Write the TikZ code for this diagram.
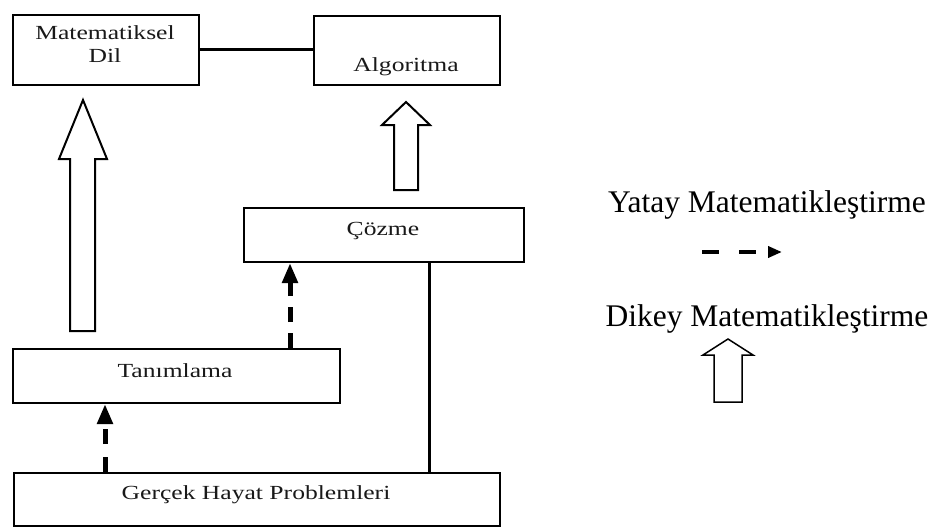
\documentclass[tikz,border=0pt]{standalone}
\usepackage{fontspec}
\usepackage{graphicx}
\setmainfont{Liberation Serif}
\usetikzlibrary{arrows.meta}

\newcommand\boxtext[1]{\fontsize{20}{23}\selectfont\scalebox{1.28}[1]{#1}}

\begin{document}
\begin{tikzpicture}[x=1pt,y=-1pt,
  box/.style={draw, line width=2pt, inner sep=0pt, anchor=north west},
  lbl/.style={inner sep=0pt, anchor=base, text=black!90},
  legendtext/.style={inner sep=0pt, anchor=base, font=\fontsize{31.5}{36}\selectfont},
  link/.style={line width=3pt},
  horiz/.style={line width=5pt, -{Triangle[length=20pt,width=15pt]}},
  blockarrow/.style={draw, line width=2pt, line join=miter, fill=white}]
\useasboundingbox (0,0) rectangle (935,527);

% boxes
\node[box, minimum width=186pt, minimum height=70pt] (mdil) at (12,14) {};
\node[box, minimum width=186pt, minimum height=69pt] (algo) at (313,15) {};
\node[box, minimum width=280pt, minimum height=54pt] (cozme) at (243,207) {};
\node[box, minimum width=327pt, minimum height=54pt] (tanim) at (12,348) {};
\node[box, minimum width=486pt, minimum height=53pt] (gercek) at (13,472) {};

% box labels
\node[lbl] (mdilA) at (105,40) {\boxtext{Matematiksel}};
\node[lbl] (mdilB) at (105,63) {\boxtext{Dil}};
\node[lbl] (algoL) at (406,72) {\boxtext{Algoritma}};
\node[lbl] (cozmeL) at (383,235) {\boxtext{Çözme}};
\node[lbl] (tanimL) at (175,377) {\boxtext{Tanımlama}};
\node[lbl] (gercekL) at (256,499) {\boxtext{Gerçek Hayat Problemleri}};

% solid connectors
\draw[link] (mdil.east) -- (algo.west |- mdil.east);
\coordinate (sx) at (429,0);
\draw[link] (sx |- cozme.south) -- (sx |- gercek.north);

% horizontal mathematisation (dashed arrows)
\coordinate (d1) at (105,0);
\coordinate (d2) at (290,0);
\draw[horiz, dash pattern=on 15pt off 13pt] (d1 |- gercek.north) -- (d1 |- tanim.south);
\draw[horiz, dash pattern=on 15pt off 11pt] (d2 |- tanim.north) -- (d2 |- cozme.south);

% vertical mathematisation (hollow block arrows)
\draw[blockarrow] (70,331) -- (70,159) -- (59,159) -- (83,100) -- (107,159)
  -- (95,159) -- (95,331) -- cycle;
\draw[blockarrow] (394,190) -- (394,125) -- (382,125) -- (406,102) -- (430,125)
  -- (418,125) -- (418,190) -- cycle;

% legend
\node[legendtext] (yatay) at (767,212) {Yatay Matematikleştirme};
\coordinate (ya) at (702,252);
\coordinate (yb) at (782,252);
\draw[line width=4.5pt, dash pattern=on 17pt off 20pt,
  -{Triangle[length=14pt,width=11pt]}] (ya) -- (yb);
\node[legendtext] (dikey) at (767,326) {Dikey Matematikleştirme};
\draw[blockarrow, line width=1.5pt] (714,402) -- (714,355) -- (703,355) -- (728,339)
  -- (753,355) -- (742,355) -- (742,402) -- cycle;
\end{tikzpicture}
\end{document}
